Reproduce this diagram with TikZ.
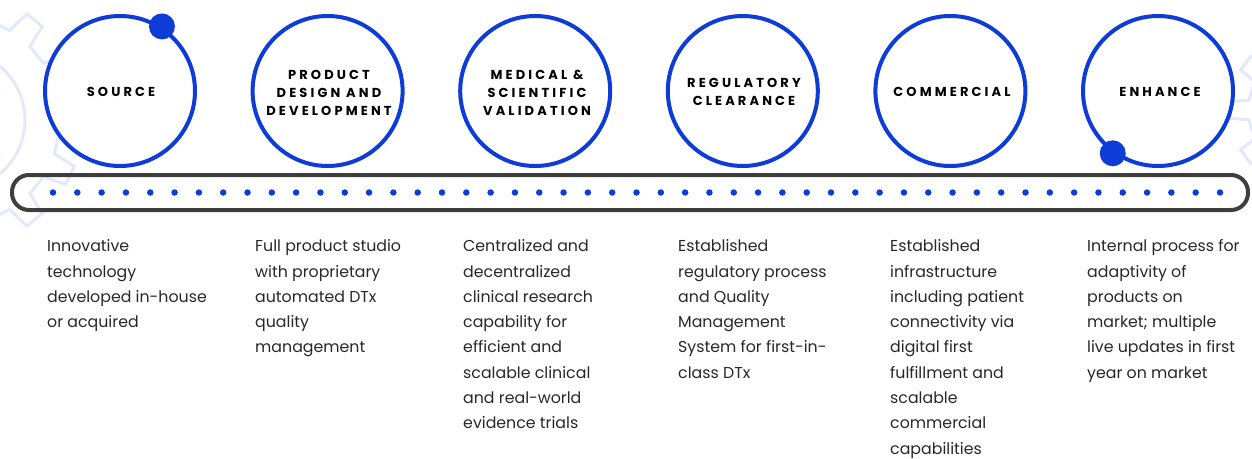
\documentclass[tikz,border=0pt]{standalone}
\usepackage{fontspec}
\setmainfont{Poppins}
\definecolor{ringblue}{RGB}{14,60,214}
\definecolor{bargray}{RGB}{62,62,62}
\definecolor{geargray}{RGB}{228,233,249}
\definecolor{bodytext}{RGB}{40,40,40}
\tikzset{
  ring/.style={draw=ringblue, line width=4pt, circle, minimum size=150pt, inner sep=0pt, fill=white},
  knob/.style={fill=ringblue, circle, minimum size=26pt, inner sep=0pt},
  heading/.style={align=center, font=\fontsize{13}{18}\selectfont\bfseries\addfontfeatures{LetterSpace=24}, text=black},
  desc/.style={anchor=north west, inner sep=0pt, align=left, font=\fontsize{15.8}{25.3}\selectfont, text=bodytext},
  bar/.style={draw=bargray, line width=4pt, rounded corners=17pt},
  bead/.style={fill=ringblue, circle, minimum size=6.5pt, inner sep=0pt},
  gear/.style={draw=geargray, line width=3pt}
}
\begin{document}
\begin{tikzpicture}[x=1pt,y=-1pt]
\useasboundingbox (0,0) rectangle (1252,458);
\clip (0,0) rectangle (1252,458);
% faint background gears
\draw[gear, shift={(-45,120)}] (0:105) \foreach \i in {0,...,13} { -- ({\i*25.714-7}:105) -- ({\i*25.714-4.5}:128) -- ({\i*25.714+4.5}:128) -- ({\i*25.714+7}:105) } -- cycle;
\draw[gear, shift={(-45,120)}] (0,0) circle (70);
\draw[gear, shift={(1310,110)}] (0:62) \foreach \i in {0,...,9} { -- ({\i*36-9}:62) -- ({\i*36-6}:80) -- ({\i*36+6}:80) -- ({\i*36+9}:62) } -- cycle;
% bar
\draw[bar] (12,175) rectangle (1248,210) node[midway, inner sep=0pt] (barc) {};
\foreach \k in {0,...,48} {
  \node[bead] (b\k) at ({53+\k*24.3125},192.5) {};
}
% rings
\node[ring] (r1) at (120,91) {};
\node[ring] (r2) at (327.6,91) {};
\node[ring] (r3) at (535.2,91) {};
\node[ring] (r4) at (742.8,91) {};
\node[ring] (r5) at (950.4,91) {};
\node[ring] (r6) at (1158,91) {};
\node[knob] (k1) at (r1.57.6) {};
\node[knob] (k6) at (r6.234.6) {};
% headings
\node[heading] (h1) at (121,92) {SOURCE};
\node[heading] (h2) at (329,93) {PRODUCT\\DESIGN AND\\DEVELOPMENT};
\node[heading] (h3) at (537,93) {MEDICAL \&\\SCIENTIFIC\\VALIDATION};
\node[heading] (h4) at (744,92) {REGULATORY\\CLEARANCE};
\node[heading] (h5) at (952,92) {COMMERCIAL};
\node[heading] (h6) at (1160,92) {ENHANCE};
% descriptions
\node[desc] (d1) at (47,239.5) {Innovative\\technology\\developed in-house\\or acquired};
\node[desc] (d2) at (255,239.5) {Full product studio\\with proprietary\\automated DTx\\quality\\management};
\node[desc] (d3) at (463,239.5) {Centralized and\\decentralized\\clinical research\\capability for\\efficient and\\scalable clinical\\and real-world\\evidence trials};
\node[desc] (d4) at (678,239.5) {Established\\regulatory process\\and Quality\\Management\\System for first-in-\\class DTx};
\node[desc] (d5) at (890,239.5) {Established\\infrastructure\\including patient\\connectivity via\\digital first\\fulfillment and\\scalable\\commercial\\capabilities};
\node[desc] (d6) at (1087,239.5) {Internal process for\\adaptivity of\\products on\\market; multiple\\live updates in first\\year on market};
\end{tikzpicture}
\end{document}
